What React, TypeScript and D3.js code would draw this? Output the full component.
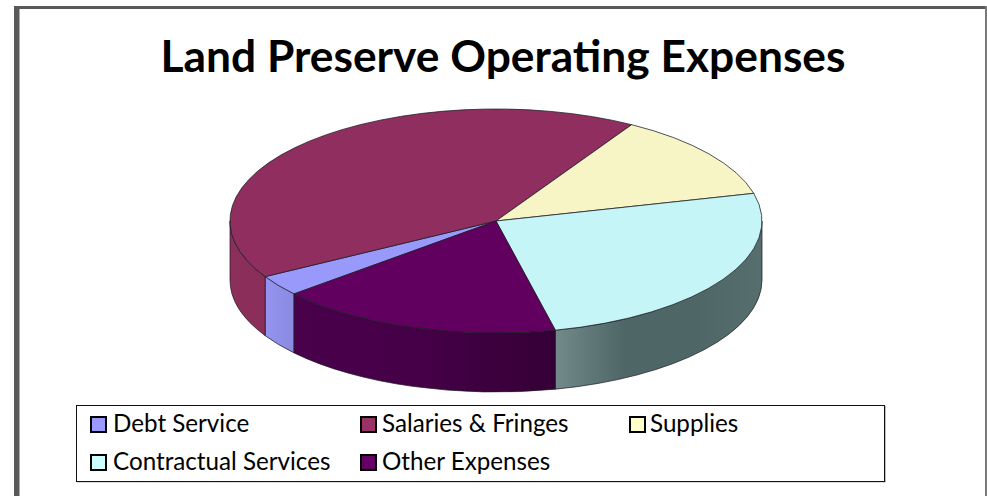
import React from "react";
import * as d3 from "d3";

const WIDTH = 987;
const HEIGHT = 496;

const title = "Land Preserve Operating Expenses";
const categories = ["Debt Service", "Salaries & Fringes", "Supplies", "Contractual Services", "Other Expenses"];
const shares = [3, 41.8, 12.5, 25.4, 17.3];
const topColors = ["#9999fb", "#902f5f", "#f7f5c6", "#c5f5f6", "#620060"];
const swatchColors = ["#9999ff", "#993366", "#ffffcc", "#ccffff", "#660066"];
// Side wall shading, left to right along the rim
const wallShades = [
  ["#9494f0", "#8a8ae0"],
  ["#8c2f5b", "#8a2d58"],
  ["#8f8f6f", "#8f8f6f"],
  ["#728a8a", "#4f6666", "#4f6666", "#576e6e"],
  ["#4a004c", "#450047", "#340036"],
];
const legendColumns = [90, 360, 629];
const legendTextColumns = [113, 382, 650];
const legendRows = [416, 454];

const cx = 496;
const cy = 221;
const rx = 266;
const ry = 112;
const depth = 59;
const firstSliceAngle = (229.4 * Math.PI) / 180;

const pie = d3
  .pie<number>()
  .sort(null)
  .startAngle(firstSliceAngle)
  .endAngle(firstSliceAngle + 2 * Math.PI);
const slices = pie(shares);
const topArc = d3.arc<d3.PieArcDatum<number>>().innerRadius(0).outerRadius(1);

const rim = (a: number, drop = 0): [number, number] => [cx + rx * Math.sin(a), cy - ry * Math.cos(a) + drop];

// The visible front of the disc runs from 3 o'clock to 9 o'clock
const frontSpan = (s: d3.PieArcDatum<number>): [number, number] | null => {
  for (const turn of [0, 2 * Math.PI]) {
    const a0 = Math.max(s.startAngle - turn, Math.PI / 2);
    const a1 = Math.min(s.endAngle - turn, (3 * Math.PI) / 2);
    if (a1 > a0) return [a0, a1];
  }
  return null;
};

const wallPath = ([a0, a1]: [number, number]) => {
  const [x0, y0] = rim(a0);
  const [x1, y1] = rim(a1);
  return `M${x0},${y0}A${rx},${ry} 0 0 1 ${x1},${y1}L${x1},${y1 + depth}A${rx},${ry} 0 0 0 ${x0},${y0 + depth}Z`;
};

const edge = "#1c1c24";

export default function App() {
  const walls = slices
    .map((s, i) => ({ i, span: frontSpan(s) }))
    .filter((w) => w.span !== null) as { i: number; span: [number, number] }[];

  return (
    <svg
      width={WIDTH}
      height={HEIGHT}
      viewBox={`0 0 ${WIDTH} ${HEIGHT}`}
      style={{ position: "absolute", left: 0, top: 0, display: "block", background: "#fff" }}
    >
      <defs>
        {walls.map(({ i, span }) => {
          const xs = [rim(span[0])[0], rim(span[1])[0]];
          const stops = wallShades[i];
          return (
            <linearGradient
              key={i}
              id={`wall-${i}`}
              gradientUnits="userSpaceOnUse"
              x1={Math.min(...xs)}
              x2={Math.max(...xs)}
              y1={0}
              y2={0}
            >
              {stops.map((c, k) => (
                <stop key={k} offset={k / (stops.length - 1)} stopColor={c} />
              ))}
            </linearGradient>
          );
        })}
      </defs>

      {/* Outer frame: left, top and right edges */}
      <rect x={14} y={6} width={5.5} height={HEIGHT - 6} fill="#595959" />
      <rect x={14} y={6} width={WIDTH - 14} height={3} fill="#595959" />
      <rect x={985} y={6} width={2} height={HEIGHT - 6} fill="#7a7a7a" />

      <text
        x={503}
        y={72}
        textAnchor="middle"
        fontFamily="Lato, 'Open Sans', sans-serif"
        fontWeight={700}
        fontSize={44.3}
        fill="#000"
      >
        {title}
      </text>

      {/* Disc side */}
      <g>
        {walls.map(({ i, span }) => (
          <path key={i} d={wallPath(span)} fill={`url(#wall-${i})`} stroke={edge} strokeWidth={0.9} strokeOpacity={0.8} />
        ))}
      </g>

      {/* Disc top */}
      <g transform={`translate(${cx},${cy}) scale(${rx},${ry})`}>
        {slices.map((s, i) => (
          <path
            key={i}
            d={topArc(s) ?? ""}
            fill={topColors[i]}
            stroke={edge}
            strokeWidth={0.9}
            strokeOpacity={0.85}
            vectorEffect="non-scaling-stroke"
          />
        ))}
      </g>

      {/* Legend */}
      <rect x={77} y={406} width={809} height={76.5} fill="#bdbdbd" />
      <rect x={76.5} y={405.5} width={808} height={76} fill="#fff" stroke="#111" strokeWidth={1} />
      {categories.map((name, i) => {
        const col = i < 3 ? i : i - 3;
        const y = i < 3 ? legendRows[0] : legendRows[1];
        return (
          <g key={name}>
            <rect x={legendColumns[col] + 1} y={y + 1} width={15} height={15} fill={swatchColors[i]} stroke="#000" strokeWidth={2} />
            <text
              x={legendTextColumns[col]}
              y={y + 16}
              fontFamily="Lato, 'Open Sans', sans-serif"
              fontSize={24.2}
              fill="#000"
            >
              {name}
            </text>
          </g>
        );
      })}
    </svg>
  );
}
